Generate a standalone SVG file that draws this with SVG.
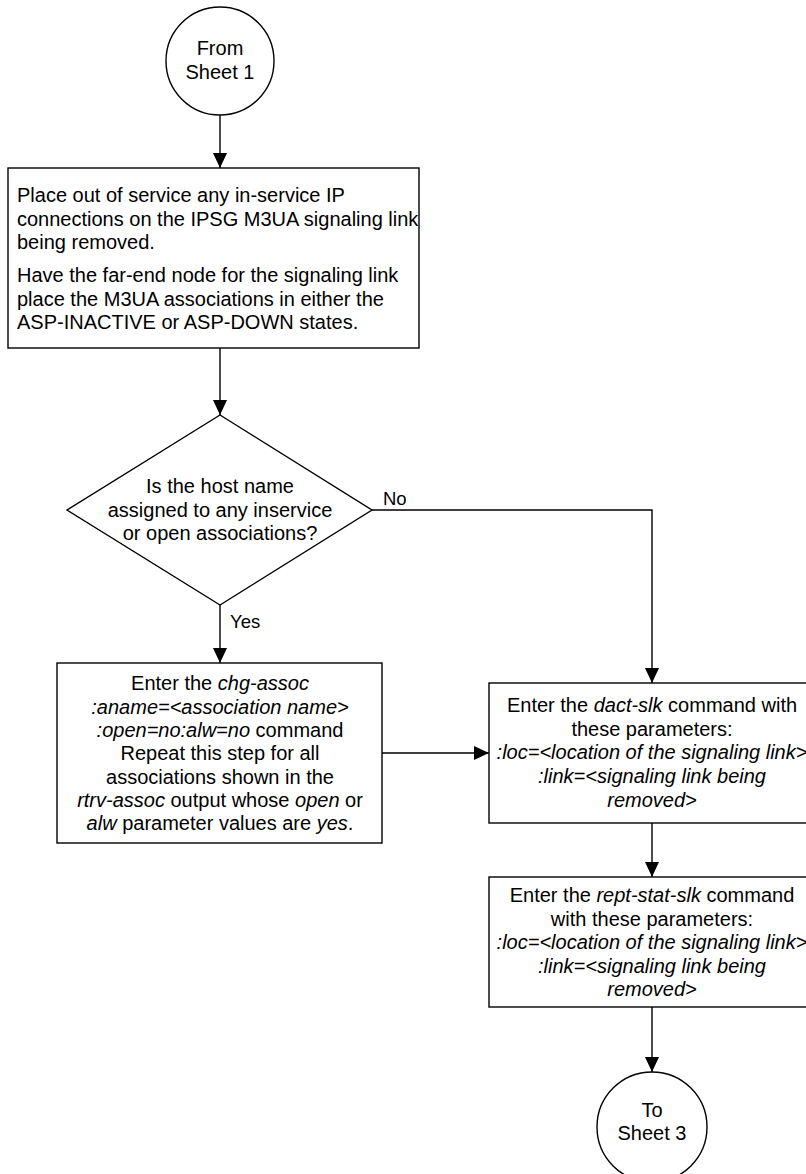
<svg xmlns="http://www.w3.org/2000/svg" width="806" height="1174" viewBox="0 0 806 1174">
<defs>
<style>
.s{fill:#fff;stroke:#000;stroke-width:1.4}
.t{font-family:"Liberation Sans",Arial,sans-serif;font-size:20px;fill:#000}
.lb{font-size:18.5px}
.c{text-anchor:middle}
.i{font-style:italic}
.ln{fill:none;stroke:#000;stroke-width:1.4}
</style>
<marker id="ah" markerUnits="userSpaceOnUse" markerWidth="16" markerHeight="16" refX="15" refY="7" orient="auto">
<path d="M0,0 L15,7 L0,14 z" fill="#000"/>
</marker>
</defs>
<rect width="806" height="1174" fill="#fff"/>
<g id="connectors">
<path class="ln" d="M220,115 V168" marker-end="url(#ah)"/>
<path class="ln" d="M220,348 V415" marker-end="url(#ah)"/>
<path class="ln" d="M372,510 H652 V683" marker-end="url(#ah)"/>
<path class="ln" d="M220,605 V663" marker-end="url(#ah)"/>
<path class="ln" d="M382,753 H489" marker-end="url(#ah)"/>
<path class="ln" d="M652,823 V877" marker-end="url(#ah)"/>
<path class="ln" d="M652,1007 V1072" marker-end="url(#ah)"/>
<text class="t lb" x="383" y="505">No</text>
<text class="t lb" x="230" y="628">Yes</text>
</g>
<g id="start">
<circle class="s" cx="220" cy="61" r="54"/>
<text class="t c" x="220" y="55">From</text>
<text class="t c" x="220" y="79">Sheet 1</text>
</g>
<g id="step1">
<rect class="s" x="8" y="168" width="411" height="180"/>
<text class="t" x="17" y="202">Place out of service any in-service IP</text>
<text class="t" x="17" y="225.5">connections on the IPSG M3UA signaling link</text>
<text class="t" x="17" y="249">being removed.</text>
<text class="t" x="17" y="282">Have the far-end node for the signaling link</text>
<text class="t" x="17" y="306">place the M3UA associations in either the</text>
<text class="t" x="17" y="329">ASP-INACTIVE or ASP-DOWN states.</text>
</g>
<g id="decision">
<polygon class="s" points="220,415 372,510 220,605 67,510"/>
<text class="t c" x="220" y="493">Is the host name</text>
<text class="t c" x="220" y="517">assigned to any inservice</text>
<text class="t c" x="220" y="540">or open associations?</text>
</g>
<g id="chgassoc">
<rect class="s" x="57" y="663" width="325" height="180"/>
<text class="t c" x="220" y="690">Enter the <tspan class="i">chg-assoc</tspan></text>
<text class="t c i" x="220" y="713.5">:aname=&lt;association name&gt;</text>
<text class="t c" x="220" y="737"><tspan class="i">:open=no:alw=no</tspan> command</text>
<text class="t c" x="220" y="760">Repeat this step for all</text>
<text class="t c" x="220" y="783.5">associations shown in the</text>
<text class="t c" x="220" y="807"><tspan class="i">rtrv-assoc</tspan> output whose <tspan class="i">open</tspan> or</text>
<text class="t c" x="220" y="830"><tspan class="i">alw</tspan> parameter values are <tspan class="i">yes</tspan>.</text>
</g>
<g id="dactslk">
<rect class="s" x="489" y="683" width="326" height="140"/>
<text class="t c" x="652" y="712">Enter the <tspan class="i">dact-slk</tspan> command with</text>
<text class="t c" x="652" y="736">these parameters:</text>
<text class="t c i" x="652" y="759">:loc=&lt;location of the signaling link&gt;</text>
<text class="t c i" x="652" y="783">:link=&lt;signaling link being</text>
<text class="t c i" x="652" y="807">removed&gt;</text>
</g>
<g id="reptstat">
<rect class="s" x="489" y="877" width="326" height="130"/>
<text class="t c" x="652" y="902">Enter the <tspan class="i">rept-stat-slk</tspan> command</text>
<text class="t c" x="652" y="925.5">with these parameters:</text>
<text class="t c i" x="652" y="949">:loc=&lt;location of the signaling link&gt;</text>
<text class="t c i" x="652" y="972.5">:link=&lt;signaling link being</text>
<text class="t c i" x="652" y="996">removed&gt;</text>
</g>
<g id="end">
<circle class="s" cx="652" cy="1127" r="55"/>
<text class="t c" x="652" y="1117">To</text>
<text class="t c" x="652" y="1140">Sheet 3</text>
</g>
</svg>
